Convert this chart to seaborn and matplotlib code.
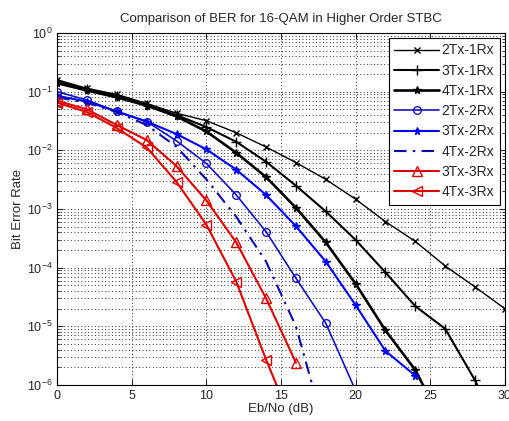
import numpy as np
import pandas as pd
import seaborn as sns
import matplotlib
matplotlib.use("Agg")
import matplotlib.pyplot as plt
from matplotlib.ticker import LogLocator, FixedLocator

# Eb/No points (dB)
snr = [0, 2, 4, 6, 8, 10, 12, 14, 16, 18, 20, 22, 24, 26, 28, 30]

# BER (values past the last visible point fall below 1e-6)
ber_2tx1rx = [0.16, 0.114, 0.09, 0.063, 0.043, 0.032, 0.020, 0.0114, 0.0062, 0.0032,
              1.47e-3, 6.1e-4, 2.8e-4, 1.07e-4, 4.7e-5, 2.0e-5]
ber_3tx1rx = [0.15, 0.11, 0.085, 0.06, 0.04, 0.025, 0.014, 0.0064, 0.0025, 9.1e-4,
              2.97e-4, 8.3e-5, 2.2e-5, 9.1e-6, 1.2e-6, 1e-7]
ber_4tx1rx = [0.14, 0.105, 0.08, 0.058, 0.038, 0.021, 0.0091, 0.0035, 1.05e-3, 2.7e-4,
              5.3e-5, 8.5e-6, 1.8e-6, 1.8e-7]
ber_2tx2rx = [0.1, 0.072, 0.046, 0.031, 0.0145, 0.006, 1.74e-3, 4.1e-4, 6.6e-5, 1.13e-5, 8e-7]
ber_3tx2rx = [0.085, 0.068, 0.046, 0.031, 0.019, 0.0104, 0.0047, 1.74e-3, 5.1e-4, 1.27e-4,
              2.3e-5, 3.8e-6, 1.44e-6]
ber_4tx2rx = [0.08, 0.065, 0.045, 0.027, 0.0115, 3.2e-3, 7.4e-4, 1.27e-4, 1e-5, 1.5e-7]
ber_3tx3rx = [0.07, 0.05, 0.027, 0.015, 5.4e-3, 1.4e-3, 2.7e-4, 3.0e-5, 2.4e-6]
ber_4tx3rx = [0.065, 0.045, 0.024, 0.0112, 2.9e-3, 5.4e-4, 5.8e-5, 2.7e-6, 1.6e-7]

names = ['2Tx-1Rx', '3Tx-1Rx', '4Tx-1Rx', '2Tx-2Rx', '3Tx-2Rx', '4Tx-2Rx', '3Tx-3Rx', '4Tx-3Rx']
series = [ber_2tx1rx, ber_3tx1rx, ber_4tx1rx, ber_2tx2rx, ber_3tx2rx, ber_4tx2rx, ber_3tx3rx, ber_4tx3rx]

# colour, marker, open marker?, linestyle, linewidth, markersize
styles = {
    '2Tx-1Rx': ('black', 'x', False, '-', 1.0, 4.5),
    '3Tx-1Rx': ('black', '+', False, '-', 1.5, 7),
    '4Tx-1Rx': ('black', '*', False, '-', 1.9, 5.5),
    '2Tx-2Rx': ('#1414c0', 'o', True, '-', 1.2, 5.5),
    '3Tx-2Rx': ('#0000ff', '*', False, '-', 1.5, 5.5),
    '4Tx-2Rx': ('#0a0ab0', '', False, (0, (6, 3, 1.2, 3)), 1.5, 6),
    '3Tx-3Rx': ('#e00000', '^', True, '-', 1.5, 6.5),
    '4Tx-3Rx': ('#e00000', '<', True, '-', 1.5, 6.5),
}

temp = []
for n, vals in zip(names, series):
    temp.append(pd.DataFrame({'EbNo': snr[:len(vals)], 'BER': vals, 'Case': n}))
df = pd.concat(temp)

sns.set_style("ticks")
plt.rcParams['font.family'] = ['Liberation Sans', 'DejaVu Sans']
plt.rcParams['mathtext.fontset'] = 'custom'
plt.rcParams['mathtext.rm'] = 'Liberation Sans'
plt.rcParams['mathtext.it'] = 'Liberation Sans'

fig = plt.figure(figsize=(5.10, 4.21), dpi=100)
ax = fig.add_axes([0.112, 0.0855, 0.878, 0.836])

for n in names:
    c, m, hollow, ls, lw, ms = styles[n]
    sub = df[df['Case'] == n]
    sns.lineplot(data=sub, x='EbNo', y='BER', ax=ax, color=c, linestyle=ls, lw=lw,
                 marker=m if m else None, markersize=ms,
                 markerfacecolor='none' if hollow else c, markeredgecolor=c,
                 markeredgewidth=1.0, errorbar=None, label=n)

ax.set_yscale('log')
ax.set_xlim(0, 30)
ax.set_ylim(1e-6, 1)
ax.xaxis.set_major_locator(FixedLocator([0, 5, 10, 15, 20, 25, 30]))
ax.yaxis.set_major_locator(LogLocator(base=10, numticks=10))
ax.yaxis.set_minor_locator(LogLocator(base=10, subs=np.arange(2, 10), numticks=20))

ax.grid(True, which='major', axis='both', linestyle=(0, (1, 2.5)), color='#303030', lw=0.7)
ax.grid(True, which='minor', axis='y', linestyle=(0, (1, 2.5)), color='#303030', lw=0.7)
ax.set_axisbelow(True)
ax.tick_params(which='both', direction='in', top=True, right=True, labelsize=9)
ax.tick_params(which='major', length=4)
ax.tick_params(which='minor', length=2)
for s in ax.spines.values():
    s.set_color('black')
    s.set_linewidth(0.8)

ax.set_title('Comparison of BER for 16-QAM in Higher Order STBC', fontsize=9.5, pad=8)
ax.set_xlabel('Eb/No (dB)', fontsize=9.5, labelpad=1)
ax.set_ylabel('Bit Error Rate', fontsize=9.5, labelpad=2)

leg = ax.legend(loc='upper right', fontsize=10, handlelength=3.2, labelspacing=0.45,
                fancybox=False, framealpha=1, edgecolor='black', borderaxespad=0.35,
                handletextpad=0.2, borderpad=0.4)
leg.get_frame().set_linewidth(0.8)

fig.savefig('out.png', dpi=100)
